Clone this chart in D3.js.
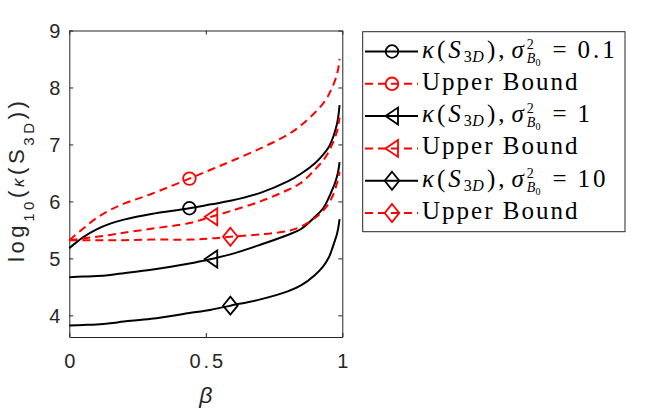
<!DOCTYPE html>
<html>
<head>
<meta charset="utf-8">
<script src="https://cdn.jsdelivr.net/npm/d3@7"></script>
<style>
  body { margin: 0; background: #fff; }
  svg { display: block; }
</style>
</head>
<body>
<svg id="chart" width="672" height="410"></svg>
<script>
// beta grid and log10(kappa) values
const beta    = [0, 0.05, 0.1, 0.15, 0.2, 0.3, 0.44, 0.52, 0.59, 0.7, 0.8, 0.85, 0.9, 0.93, 0.95, 0.96, 0.97, 0.98, 0.985, 0.99];
const kappa01 = [5.18, 5.37, 5.51, 5.61, 5.68, 5.78, 5.88, 5.95, 6.01, 6.15, 6.35, 6.49, 6.67, 6.82, 6.95, 7.05, 7.18, 7.35, 7.48, 7.69];
const upper01 = [5.32, 5.52, 5.71, 5.85, 5.96, 6.13, 6.40, 6.56, 6.70, 6.93, 7.17, 7.34, 7.56, 7.72, 7.87, 7.97, 8.08, 8.22, 8.33, 8.50];
const kappa1  = [4.67, 4.68, 4.69, 4.71, 4.74, 4.80, 4.91, 4.99, 5.07, 5.24, 5.41, 5.52, 5.73, 5.88, 6.06, 6.17, 6.28, 6.43, 6.53, 6.69];
const upper1  = [5.32, 5.35, 5.38, 5.41, 5.45, 5.52, 5.62, 5.73, 5.83, 6.00, 6.20, 6.33, 6.56, 6.72, 6.87, 6.97, 7.08, 7.22, 7.32, 7.47];
const kappa10 = [3.82, 3.83, 3.84, 3.86, 3.89, 3.94, 4.04, 4.10, 4.17, 4.28, 4.42, 4.53, 4.71, 4.86, 5.01, 5.13, 5.27, 5.42, 5.53, 5.69];
const upper10 = [5.32, 5.32, 5.32, 5.32, 5.32, 5.33, 5.33, 5.35, 5.38, 5.42, 5.48, 5.56, 5.71, 5.84, 5.96, 6.05, 6.16, 6.31, 6.40, 6.52];

const sigmaLabels = ['0.1', '1', '10'];
const markerIndex = [6, 7, 8];      // one marker per sigma, at beta[6], beta[7], beta[8]
const xTicks = [0, 0.5, 1];
const yTicks = [4, 5, 6, 7, 8, 9];

const series = [
    { values: kappa01, color: '#000', dashed: false, marker: 'circle',   mi: markerIndex[0] },
    { values: upper01, color: '#f00', dashed: true,  marker: 'circle',   mi: markerIndex[0] },
    { values: kappa1,  color: '#000', dashed: false, marker: 'triangle', mi: markerIndex[1] },
    { values: upper1,  color: '#f00', dashed: true,  marker: 'triangle', mi: markerIndex[1] },
    { values: kappa10, color: '#000', dashed: false, marker: 'diamond',  mi: markerIndex[2] },
    { values: upper10, color: '#f00', dashed: true,  marker: 'diamond',  mi: markerIndex[2] },
];

const svg = d3.select('#chart');
const axisColor = '#262626';
const sansFont = '"Liberation Sans", Arial, sans-serif';
const serifFont = '"Liberation Serif", "Times New Roman", serif';

const x = d3.scaleLinear().domain([0, 1]).range([69.3, 342.3]);
const y = d3.scaleLinear().domain([3.62, 9]).range([337, 30.5]);

function drawMarker(g, type, cx, cy, color) {
    if (type === 'circle') {
        g.append('circle').attr('cx', cx).attr('cy', cy).attr('r', 6.3)
            .attr('fill', 'none').attr('stroke', color).attr('stroke-width', 1.8);
        return;
    }
    const d = type === 'triangle' ? 'M-6.5,0L6,-8.5L6,8.5Z' : 'M0,-9L7.3,0L0,9L-7.3,0Z';
    g.append('path').attr('d', d)
        .attr('transform', `translate(${cx},${cy})`)
        .attr('fill', 'none').attr('stroke', color).attr('stroke-width', 1.8);
}

// axes: ticks point inward, box on all four sides
const bottom = svg.append('g').attr('transform', `translate(0,${y.range()[0]})`)
    .call(d3.axisBottom(x).tickValues(xTicks).tickSize(-4).tickSizeOuter(0).tickPadding(17)
        .tickFormat(d => String(d)));
const left = svg.append('g').attr('transform', `translate(${x.range()[0]},0)`)
    .call(d3.axisLeft(y).tickValues(yTicks).tickSize(-4).tickSizeOuter(0).tickPadding(9)
        .tickFormat(d3.format('d')));
svg.append('g').attr('transform', `translate(0,${y.range()[1]})`)
    .call(d3.axisTop(x).tickValues(xTicks).tickSize(-4).tickSizeOuter(0).tickFormat(''));
svg.append('g').attr('transform', `translate(${x.range()[1]},0)`)
    .call(d3.axisRight(y).tickValues(yTicks).tickSize(-4).tickSizeOuter(0).tickFormat(''));

svg.selectAll('.domain, .tick line').attr('stroke', axisColor).attr('stroke-width', 1);
svg.selectAll('.tick text')
    .attr('fill', axisColor)
    .style('font-family', sansFont)
    .style('font-size', '20px');
bottom.selectAll('.tick text').style('letter-spacing', '3px').attr('dx', '1.5px');
left.selectAll('.tick text').attr('dy', '0.36em');

// curves
const line = d3.line()
    .x((d, i) => x(beta[i]))
    .y(d => y(d))
    .curve(d3.curveCatmullRom.alpha(0.5));

const plot = svg.append('g');
series.forEach(s => {
    plot.append('path')
        .datum(s.values)
        .attr('fill', 'none')
        .attr('stroke', s.color)
        .attr('stroke-width', 2)
        .attr('stroke-dasharray', s.dashed ? '8,5' : null)
        .attr('d', line);
});
series.forEach(s => {
    drawMarker(plot, s.marker, x(beta[s.mi]), y(s.values[s.mi]), s.color);
});

// y label: log10(κ(S3D))
const ylab = svg.append('text')
    .attr('transform', `translate(23.5,262) rotate(-90)`)
    .attr('text-anchor', 'start')
    .attr('fill', axisColor)
    .style('font-family', sansFont)
    .style('font-size', '22px')
    .style('letter-spacing', '3.6px');
ylab.append('tspan').text('log');
ylab.append('tspan').text('10').attr('dy', 10).style('font-size', '15px');
ylab.append('tspan').text('(').attr('dy', -10);
ylab.append('tspan').text('κ').style('font-style', 'italic').style('font-size', '17px');
ylab.append('tspan').text('(S');
ylab.append('tspan').text('3D').attr('dy', 10).style('font-size', '15px');
ylab.append('tspan').text('))').attr('dy', -10);

// x label
svg.append('text')
    .attr('x', (x.range()[0] + x.range()[1]) / 2)
    .attr('y', 403)
    .attr('text-anchor', 'middle')
    .attr('fill', axisColor)
    .style('font-family', sansFont)
    .style('font-size', '23px')
    .style('font-style', 'italic')
    .text('β');

// legend
const legX = 362.7, legY = 31.7, legW = 262.3, legH = 200;
const rowY0 = 51.5, rowStep = 32.3;
const legend = svg.append('g');
legend.append('rect')
    .attr('x', legX).attr('y', legY).attr('width', legW).attr('height', legH)
    .attr('fill', '#fff').attr('stroke', axisColor).attr('stroke-width', 1);

function mathText(g, tx, ty, pieces, spacing) {
    const t = g.append('text')
        .attr('x', tx).attr('y', ty)
        .attr('fill', '#000')
        .style('font-family', serifFont)
        .style('font-size', '25px')
        .style('letter-spacing', spacing + 'px');
    let shift = 0;
    let lastSup = null;
    pieces.forEach(p => {
        const sp = t.append('tspan').text(p.s);
        if (p.it) sp.style('font-style', 'italic');
        if (p.size) sp.style('font-size', p.size + 'px');
        if (p.ls != null) sp.style('letter-spacing', p.ls + 'px');
        const sh = p.sh || 0;
        if (sh !== shift) sp.attr('dy', sh - shift);
        shift = sh;
        let dx = p.dx || 0;
        if (p.under && lastSup) dx -= lastSup.node().getComputedTextLength();
        if (dx) sp.attr('dx', dx);
        if (p.sup) lastSup = sp;
    });
    return t;
}

function kappaPieces(sig) {
    return [
        { s: 'κ', it: true },
        { s: '(' },
        { s: 'S', it: true },
        { s: '3', size: 16, sh: 4, ls: 0.5 },
        { s: 'D', it: true, size: 16, sh: 4 },
        { s: '),' },
        { s: 'σ', it: true, dx: 4 },
        { s: '2', size: 14, sh: -9, sup: true, ls: 0 },
        { s: 'B', it: true, size: 14, sh: 5, under: true, ls: 0 },
        { s: '0', size: 10, sh: 8 },
        { s: '=', dx: 9 },
        { s: sig, dx: 8 },
    ];
}

series.forEach((s, i) => {
    const ry = rowY0 + i * rowStep;
    legend.append('line')
        .attr('x1', 365).attr('x2', 418).attr('y1', ry).attr('y2', ry)
        .attr('stroke', s.color).attr('stroke-width', 2)
        .attr('stroke-dasharray', s.dashed ? '8,5' : null);
    drawMarker(legend, s.marker, 392, ry, s.color);
    if (s.dashed) {
        mathText(legend, 422, ry + 6, [{ s: 'Upper Bound' }], 2);
    } else {
        mathText(legend, 422, ry + 6, kappaPieces(sigmaLabels[i / 2]), 3);
    }
});
</script>
</body>
</html>
